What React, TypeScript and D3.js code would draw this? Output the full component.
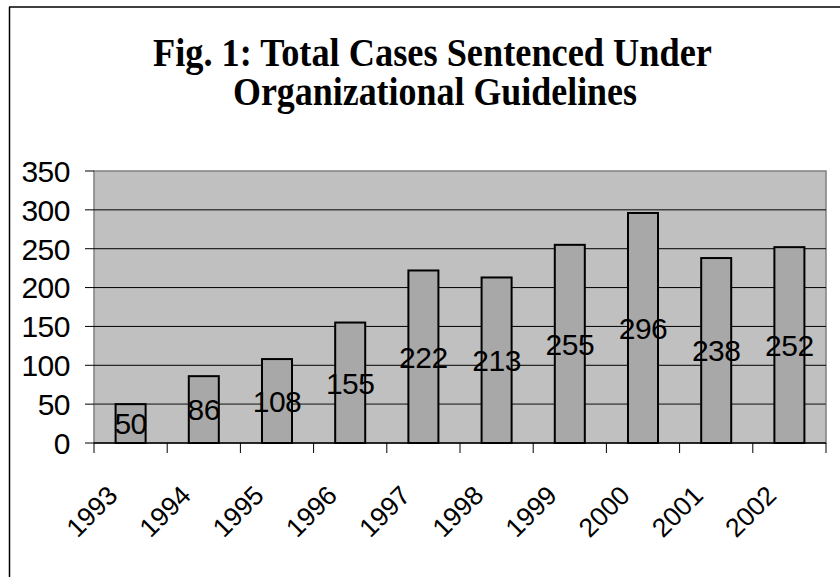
import React from "react";
import * as d3 from "d3";

const years = ["1993", "1994", "1995", "1996", "1997", "1998", "1999", "2000", "2001", "2002"];
const cases = [50, 86, 108, 155, 222, 213, 255, 296, 238, 252];
const yTicks = [0, 50, 100, 150, 200, 250, 300, 350];
const titleLines = ["Fig. 1: Total Cases Sentenced Under", "Organizational Guidelines"];

const W = 840;
const H = 577;
const plot = { left: 94, right: 826, top: 171, bottom: 443 };

export default function App() {
  const x = d3
    .scaleBand<string>()
    .domain(years)
    .range([plot.left, plot.right])
    .paddingInner(0.59)
    .paddingOuter(0.295);
  const step = x.step();
  const y = d3.scaleLinear().domain([0, 350]).range([plot.bottom, plot.top]);
  const boundaries = d3.range(years.length + 1).map((i) => plot.left + i * step);

  return (
    <svg
      width={W}
      height={H}
      style={{ position: "absolute", left: 0, top: 0, background: "#fff" }}
      fontFamily="'Liberation Sans', Arial, sans-serif"
    >
      <rect x={0} y={0} width={W} height={H} fill="#fff" />
      {/* outer frame */}
      <line x1={9} y1={7} x2={W} y2={7} stroke="#000" strokeWidth={1.5} />
      <line x1={9.5} y1={7} x2={9.5} y2={H} stroke="#000" strokeWidth={1.5} />

      {/* title */}
      <text
        x={153}
        y={66}
        fontFamily="'Liberation Serif', 'Times New Roman', serif"
        fontWeight="bold"
        fontSize={41}
        textLength={559}
        lengthAdjust="spacingAndGlyphs"
      >
        {titleLines[0]}
      </text>
      <text
        x={233}
        y={105}
        fontFamily="'Liberation Serif', 'Times New Roman', serif"
        fontWeight="bold"
        fontSize={41}
        textLength={404}
        lengthAdjust="spacingAndGlyphs"
      >
        {titleLines[1]}
      </text>

      {/* plot area */}
      <rect
        x={plot.left}
        y={plot.top}
        width={plot.right - plot.left}
        height={plot.bottom - plot.top}
        fill="#C0C0C0"
        stroke="#808080"
        strokeWidth={1.5}
      />
      {yTicks
        .filter((t) => t > 0 && t < 350)
        .map((t) => (
          <line
            key={"g" + t}
            x1={plot.left}
            x2={plot.right}
            y1={y(t)}
            y2={y(t)}
            stroke={t === 50 ? "#5a5a5a" : "#000"}
            strokeWidth={t === 50 ? 1.6 : 1}
          />
        ))}

      {/* bars */}
      {years.map((yr, i) => (
        <rect
          key={"b" + yr}
          x={x(yr)}
          y={y(cases[i])}
          width={x.bandwidth()}
          height={y(0) - y(cases[i])}
          fill="#A8A8A8"
          stroke="#000"
          strokeWidth={2}
        />
      ))}

      {/* y axis ticks and labels */}
      {yTicks.map((t) => (
        <g key={"y" + t}>
          <line x1={85} x2={plot.left} y1={y(t)} y2={y(t)} stroke="#000" strokeWidth={1} />
          <text x={70} y={y(t) + 10.8} textAnchor="end" fontSize={30} letterSpacing={-0.5}>
            {t}
          </text>
        </g>
      ))}

      {/* x axis */}
      <line x1={plot.left} x2={plot.right} y1={plot.bottom} y2={plot.bottom} stroke="#000" strokeWidth={1.5} />
      {boundaries.map((bx, i) => (
        <line key={"t" + i} x1={bx} x2={bx} y1={plot.bottom} y2={plot.bottom + 10} stroke="#000" strokeWidth={1} />
      ))}
      {years.map((yr) => {
        const cx = (x(yr) as number) + x.bandwidth() / 2;
        const ax = cx - 11.5;
        const ay = 497;
        return (
          <text
            key={"x" + yr}
            x={ax}
            y={ay}
            textAnchor="end"
            fontSize={26.5}
            transform={`rotate(-45, ${ax}, ${ay})`}
          >
            {yr}
          </text>
        );
      })}

      {/* data labels centered in bars */}
      {years.map((yr, i) => {
        const cx = (x(yr) as number) + x.bandwidth() / 2;
        const cy = (y(0) + y(cases[i])) / 2;
        return (
          <text key={"l" + yr} x={cx} y={cy + 10.8} textAnchor="middle" fontSize={30} letterSpacing={-0.5}>
            {cases[i]}
          </text>
        );
      })}
    </svg>
  );
}
